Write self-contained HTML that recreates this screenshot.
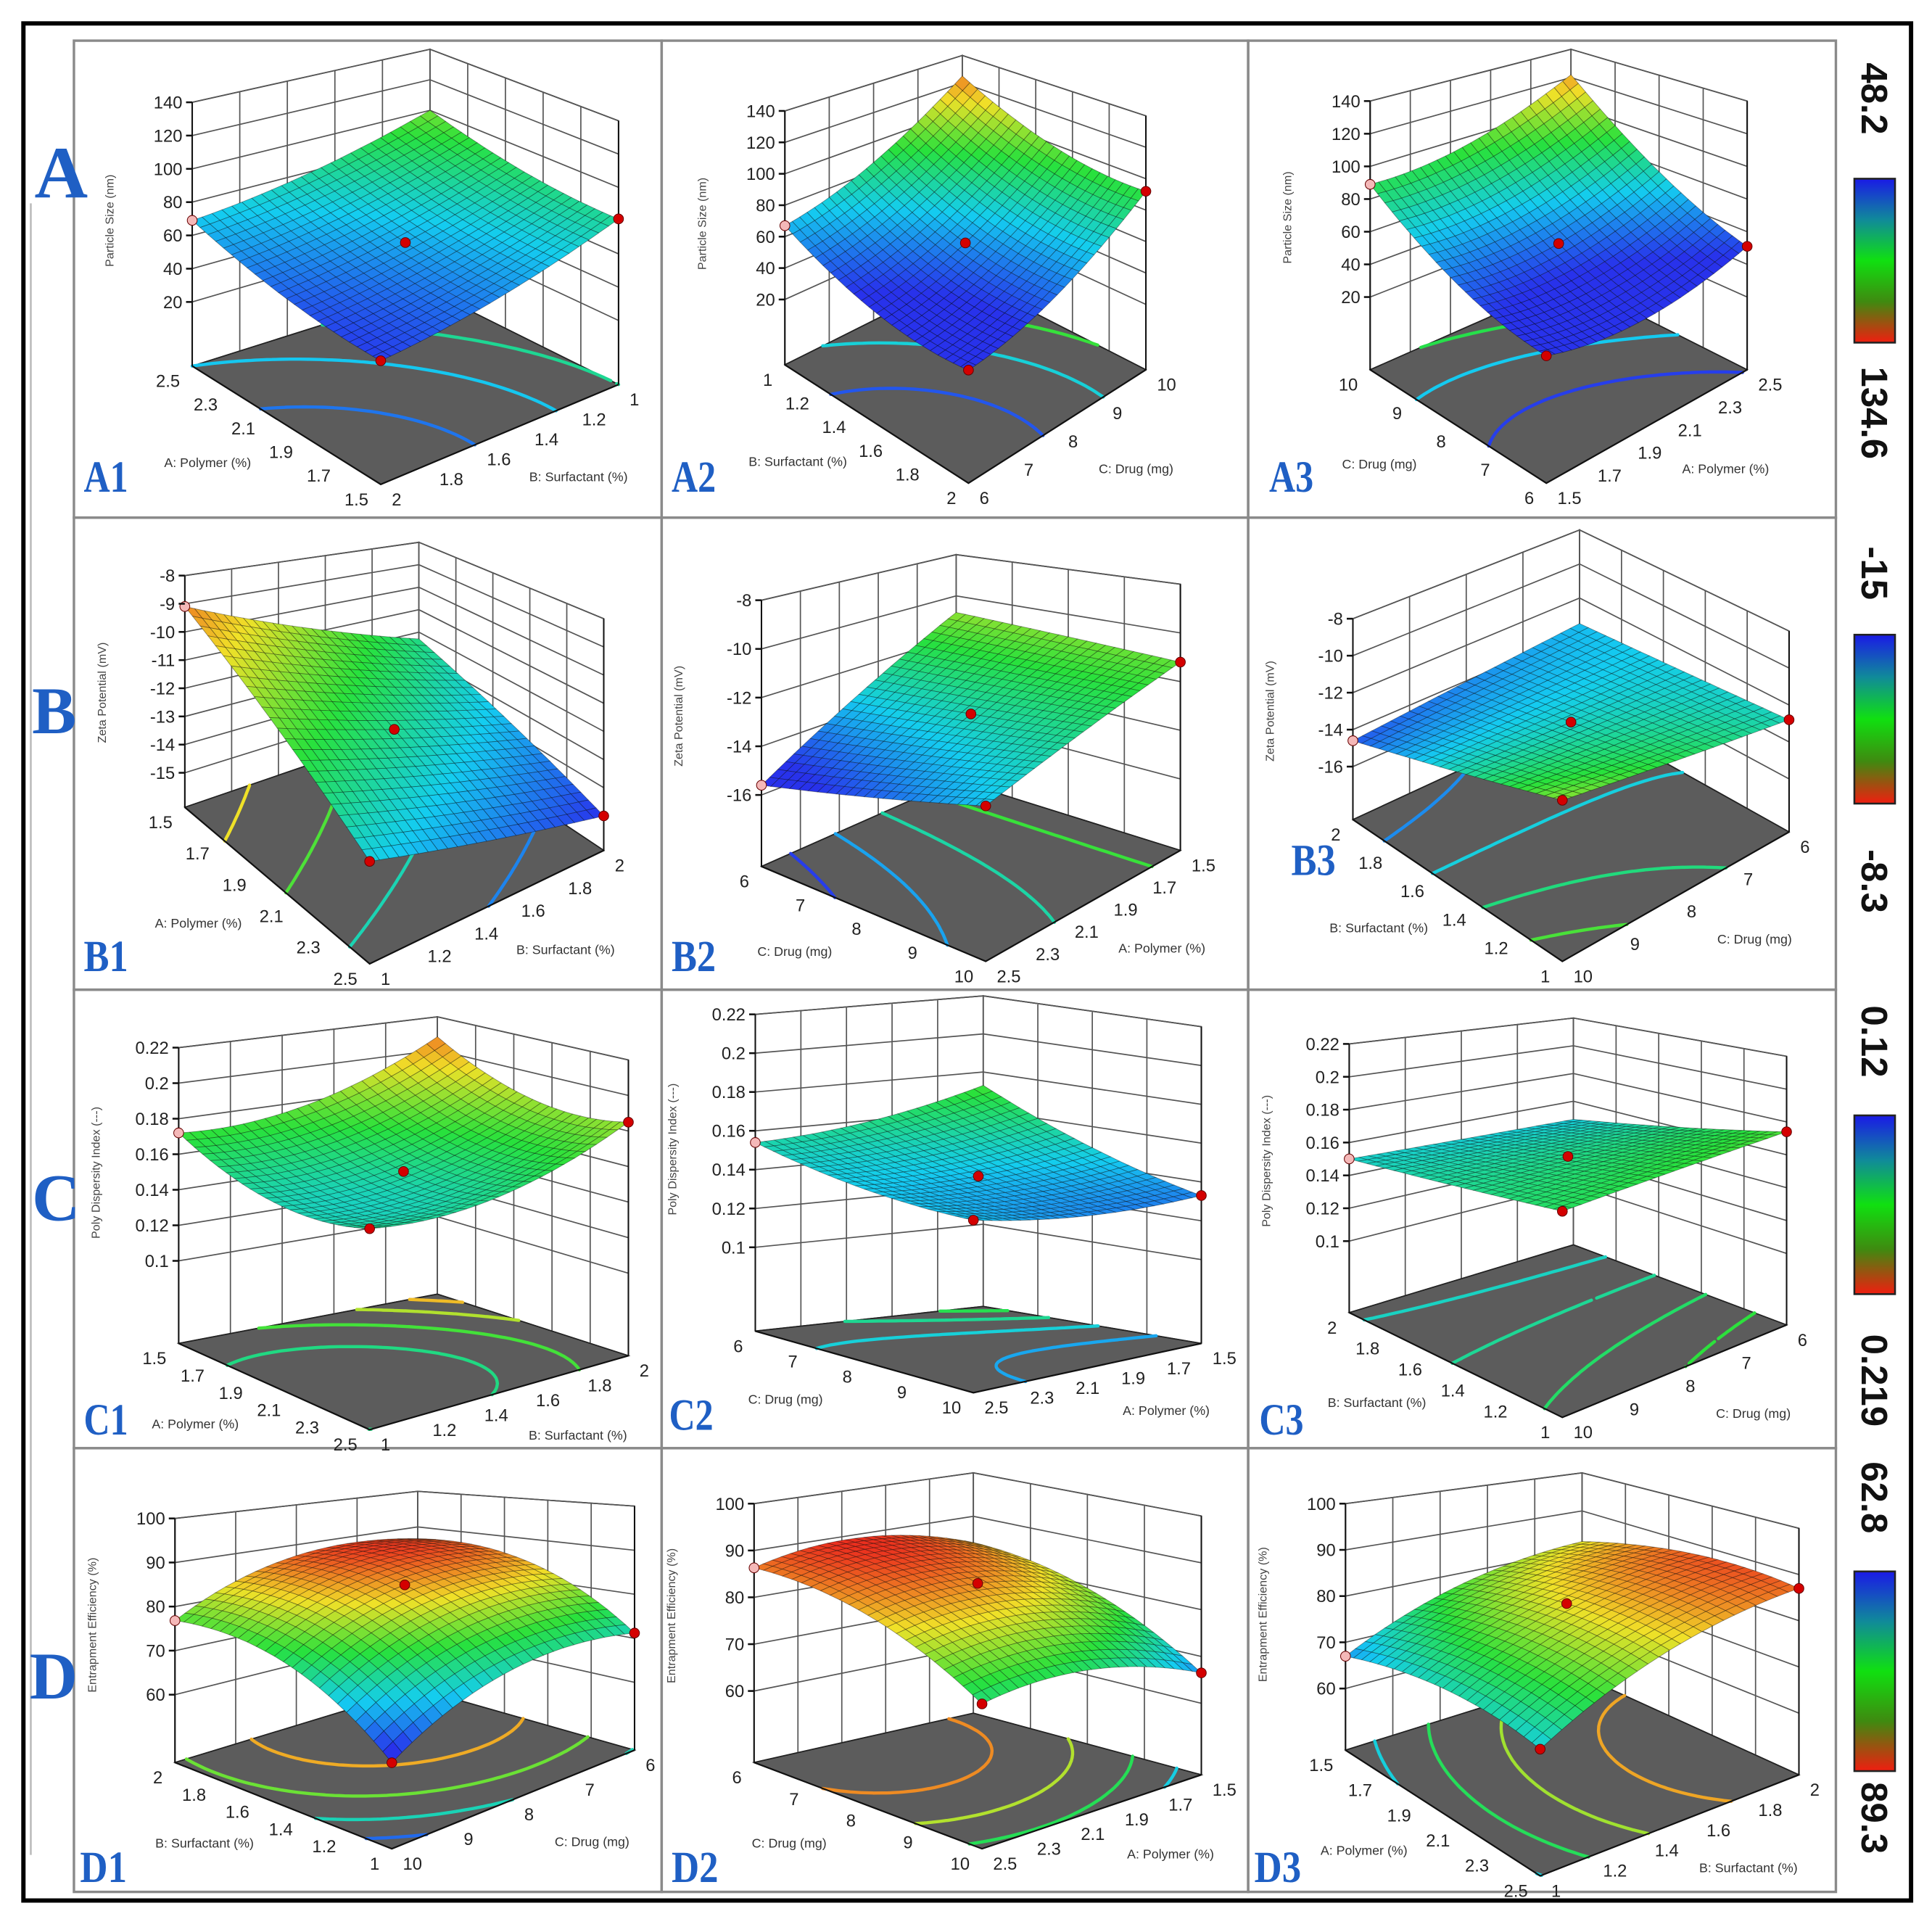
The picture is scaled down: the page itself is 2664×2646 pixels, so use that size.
<!DOCTYPE html>
<html><head><meta charset="utf-8"><style>html,body{margin:0;padding:0;background:#fff}svg{display:block}</style></head>
<body>
<svg id="fig" xmlns="http://www.w3.org/2000/svg" width="2664" height="2646" viewBox="0 0 1568 1557" preserveAspectRatio="none" font-family="Liberation Sans, sans-serif">
<defs>
<linearGradient id="cbar" x1="0" y1="0" x2="0" y2="1">
<stop offset="0" stop-color="#1a1ae6"/><stop offset="0.25" stop-color="#108a9a"/><stop offset="0.5" stop-color="#10e010"/><stop offset="0.75" stop-color="#3f8a10"/><stop offset="1" stop-color="#f01e10"/>
</linearGradient>
</defs>
<rect x="0" y="0" width="1568" height="1557" fill="#fff"/>
<line x1="25" y1="165" x2="25" y2="1505" stroke="#bbb" stroke-width="1.5"/>
<g id="frames" fill="none" stroke="#8a8a8a" stroke-width="2">
<rect x="60" y="33" width="477" height="387"/><rect x="537" y="33" width="476" height="387"/><rect x="1013" y="33" width="477" height="387"/>
<rect x="60" y="420" width="477" height="383"/><rect x="537" y="420" width="476" height="383"/><rect x="1013" y="420" width="477" height="383"/>
<rect x="60" y="803" width="477" height="372"/><rect x="537" y="803" width="476" height="372"/><rect x="1013" y="803" width="477" height="372"/>
<rect x="60" y="1175" width="477" height="360"/><rect x="537" y="1175" width="476" height="360"/><rect x="1013" y="1175" width="477" height="360"/>
</g>
<g id="plots"></g>
<g font-family="Liberation Serif, serif" font-weight="bold" fill="#1f5fc4">
<text x="28" y="160" font-size="60">A</text>
<text x="26" y="595" font-size="54">B</text>
<text x="26" y="990" font-size="54">C</text>
<text x="24" y="1378" font-size="54">D</text>
<text x="68" y="399" font-size="36" textLength="36" lengthAdjust="spacingAndGlyphs">A1</text>
<text x="545" y="399" font-size="36" textLength="36" lengthAdjust="spacingAndGlyphs">A2</text>
<text x="1030" y="399" font-size="36" textLength="36" lengthAdjust="spacingAndGlyphs">A3</text>
<text x="68" y="788" font-size="36" textLength="36" lengthAdjust="spacingAndGlyphs">B1</text>
<text x="545" y="788" font-size="36" textLength="36" lengthAdjust="spacingAndGlyphs">B2</text>
<text x="1048" y="710" font-size="36" textLength="36" lengthAdjust="spacingAndGlyphs">B3</text>
<text x="68" y="1164" font-size="36" textLength="36" lengthAdjust="spacingAndGlyphs">C1</text>
<text x="543" y="1160" font-size="36" textLength="36" lengthAdjust="spacingAndGlyphs">C2</text>
<text x="1022" y="1164" font-size="36" textLength="36" lengthAdjust="spacingAndGlyphs">C3</text>
<text x="65" y="1527" font-size="36" textLength="38" lengthAdjust="spacingAndGlyphs">D1</text>
<text x="545" y="1527" font-size="36" textLength="38" lengthAdjust="spacingAndGlyphs">D2</text>
<text x="1018" y="1527" font-size="36" textLength="38" lengthAdjust="spacingAndGlyphs">D3</text>
</g>
<g font-size="30" font-weight="bold" fill="#111">
<rect x="1505" y="145" width="33" height="133" fill="url(#cbar)" stroke="#222" stroke-width="1.5"/>
<rect x="1505" y="515" width="33" height="137" fill="url(#cbar)" stroke="#222" stroke-width="1.5"/>
<rect x="1505" y="905" width="33" height="145" fill="url(#cbar)" stroke="#222" stroke-width="1.5"/>
<rect x="1505" y="1275" width="33" height="162" fill="url(#cbar)" stroke="#222" stroke-width="1.5"/>
<text transform="translate(1511,80) rotate(90)" text-anchor="middle">48.2</text>
<text transform="translate(1511,335) rotate(90)" text-anchor="middle">134.6</text>
<text transform="translate(1511,465) rotate(90)" text-anchor="middle">-15</text>
<text transform="translate(1511,715) rotate(90)" text-anchor="middle">-8.3</text>
<text transform="translate(1511,845) rotate(90)" text-anchor="middle">0.12</text>
<text transform="translate(1511,1120) rotate(90)" text-anchor="middle">0.219</text>
<text transform="translate(1511,1215) rotate(90)" text-anchor="middle">62.8</text>
<text transform="translate(1511,1475) rotate(90)" text-anchor="middle">89.3</text>
</g>
<rect x="19" y="19" width="1532" height="1523" fill="none" stroke="#000" stroke-width="3.5"/>
</svg>
<script>
// ---- data (response values at surface corners) ----
const panelIds = ["a1","a2","a3","b1","b2","b3","c1","c2","c3","d1","d2","d3"];
const valL = [69, 67, 89, -9.1, -15.6, -14.6, 0.172, 0.154, 0.150, 76.8, 86.3, 67];
const valF = [50, 42, 44, -13.2, -13.4, -10.8, 0.160, 0.144, 0.165, 61, 73.6, 70];
const valR = [81, 92, 51, -15.0, -11.2, -12.8, 0.185, 0.133, 0.174, 71.2, 66.5, 87];
const valB = [100, 125, 122, -12.3, -10.8, -13.5, 0.208, 0.173, 0.147, 86.7, 84, 82];
const bumpU = [-5, -10, -10, 0, 0, 0, -0.012, -0.004, 0, 5.5, 4, 3];
const bumpV = [-5, -10, -10, 0, 0, 0, -0.012, -0.004, 0, 5.5, 4, 3];
const colorMin = [48.2, -15, 0.12, 62.8];
const colorMax = [134.6, -8.3, 0.219, 89.3];
const zTicksA = [20, 40, 60, 80, 100, 120, 140];
const zTicksB1 = [-15, -14, -13, -12, -11, -10, -9, -8];
const zTicksB = [-16, -14, -12, -10, -8];
const zTicksC = [0.1, 0.12, 0.14, 0.16, 0.18, 0.2, 0.22];
const zTicksD = [60, 70, 80, 90, 100];
const zTickSets = [zTicksA, zTicksA, zTicksA, zTicksB1, zTicksB, zTicksB, zTicksC, zTicksC, zTicksC, zTicksD, zTicksD, zTicksD];
const polyUp = ["1.5","1.7","1.9","2.1","2.3","2.5"], polyDown = ["2.5","2.3","2.1","1.9","1.7","1.5"];
const surfUp = ["1","1.2","1.4","1.6","1.8","2"], surfDown = ["2","1.8","1.6","1.4","1.2","1"];
const drugUp = ["6","7","8","9","10"], drugDown = ["10","9","8","7","6"];
const f1Ticks = [polyDown, surfUp, drugDown, polyUp, drugUp, surfDown, polyUp, drugUp, surfDown, surfDown, drugUp, polyUp];
const f2Ticks = [surfDown, drugUp, polyUp, surfUp, polyDown, drugDown, surfUp, polyDown, drugDown, drugDown, polyDown, surfUp];
const nA = "A: Polymer (%)", nB = "B: Surfactant (%)", nC = "C: Drug (mg)";
const f1Names = [nA, nB, nC, nA, nC, nB, nA, nC, nB, nB, nC, nA];
const f2Names = [nB, nC, nA, nB, nA, nC, nB, nA, nC, nC, nA, nB];
const zNames = ["Particle Size (nm)", "Zeta Potential (mV)", "Poly Dispersity Index (---)", "Entrapment Efficiency (%)"];

// ---- layout (screen geometry, not data) ----
const geo = [
 {L:[156,297],F:[309,393],R:[502,312],B:[349,236],top:40,y0:245,y1:83},
 {L:[637,296],F:[786,392],R:[930,300],B:[781,224],top:45,y0:243,y1:90},
 {L:[1112,300],F:[1255,392],R:[1418,300],B:[1275,228],top:40,y0:241,y1:82},
 {L:[150,655],F:[300,782],R:[490,690],B:[340,590],top:440,y0:627,y1:467},
 {L:[618,703],F:[800,780],R:[958,690],B:[776,633],top:450,y0:645,y1:487},
 {L:[1098,665],F:[1268,780],R:[1452,675],B:[1282,580],top:430,y0:622,y1:502},
 {L:[145,1090],F:[300,1160],R:[510,1100],B:[355,1050],top:825,y0:1023,y1:850},
 {L:[613,1080],F:[790,1130],R:[975,1090],B:[798,1060],top:808,y0:1012,y1:823},
 {L:[1095,1065],F:[1268,1150],R:[1450,1075],B:[1277,1010],top:826,y0:1007,y1:847},
 {L:[142,1430],F:[318,1500],R:[515,1420],B:[339,1370],top:1210,y0:1375,y1:1232},
 {L:[612,1430],F:[797,1500],R:[975,1440],B:[790,1390],top:1195,y0:1372,y1:1220},
 {L:[1092,1420],F:[1250,1522],R:[1460,1440],B:[1284,1360],top:1195,y0:1370,y1:1220}
];

const NS = "http://www.w3.org/2000/svg";
function mk(tag, attrs, parent){const e=document.createElementNS(NS,tag);for(const k in attrs)e.setAttribute(k,attrs[k]);parent.appendChild(e);return e;}
const stops = [[0,[40,50,235]],[0.25,[20,205,240]],[0.5,[40,225,60]],[0.75,[240,225,40]],[1,[235,45,30]]];
function cmap(t){t=Math.max(0,Math.min(1,t));for(let i=1;i<stops.length;i++){if(t<=stops[i][0]){const a=stops[i-1],b=stops[i];const f=(t-a[0])/(b[0]-a[0]);const c=a[1].map((v,j)=>Math.round(v+(b[1][j]-v)*f));return "rgb("+c.join(",")+")";}}return "rgb(235,45,30)";}
const fmt = p => p[0].toFixed(1)+","+p[1].toFixed(1);
const plots = document.getElementById("plots");

panelIds.forEach((id, i) => {
  const G = geo[i], zt = zTickSets[i], row = Math.floor(i/3);
  const z0 = zt[0], zN = zt[zt.length-1];
  const sL = (G.y0-G.y1)/(zN-z0);
  const zf = z0 - (G.L[1]-G.y0)/sL;
  const sB = (G.B[1]-G.top)/(zN-zf), sR = sL, sF = 2*sL - sB;
  const bl = (u,v,a,f,r,b) => (1-u)*(1-v)*a + u*(1-v)*f + u*v*r + (1-u)*v*b;
  const proj = (u,v,z) => {
    const x = bl(u,v,G.L[0],G.F[0],G.R[0],G.B[0]);
    const y = bl(u,v,G.L[1],G.F[1],G.R[1],G.B[1]);
    const s = bl(u,v,sL,sF,sR,sB);
    return [x, y-(z-zf)*s];
  };
  const zfun = (u,v) => bl(u,v,valL[i],valF[i],valR[i],valB[i]) + bumpU[i]*4*u*(1-u) + bumpV[i]*4*v*(1-v);
  const cmin = colorMin[row], cmax = colorMax[row];
  const col = z => cmap((z-cmin)/(cmax-cmin));

  const g = mk("g", {}, plots);
  
  

  const lw = mk("polygon", {points:[proj(0,0,zf),proj(0,1,zf),proj(0,1,zN),proj(0,0,zN)].map(fmt).join(" "), fill:"#fff", stroke:"#333", "stroke-width":1}, g);
  
  
  const rw = mk("polygon", {points:[proj(0,1,zf),proj(1,1,zf),proj(1,1,zN),proj(0,1,zN)].map(fmt).join(" "), fill:"#fff", stroke:"#333", "stroke-width":1}, g);
  
  
  let gd = "";
  zt.forEach(t => { gd += "M"+fmt(proj(0,0,t))+"L"+fmt(proj(0,1,t))+"L"+fmt(proj(1,1,t)); });
  const n1 = f1Ticks[i].length, n2 = f2Ticks[i].length;
  for (let k=0;k<n2;k++){const v=k/(n2-1); gd += "M"+fmt(proj(0,v,zf))+"L"+fmt(proj(0,v,zN));}
  for (let k=0;k<n1;k++){const u=k/(n1-1); gd += "M"+fmt(proj(u,1,zf))+"L"+fmt(proj(u,1,zN));}
  const grid = mk("path", {d:gd, fill:"none", stroke:"#555", "stroke-width":1}, g);
  
  

  const fl = mk("polygon", {points:[proj(0,0,zf),proj(1,0,zf),proj(1,1,zf),proj(0,1,zf)].map(fmt).join(" "), fill:"#5c5c5c", stroke:"#222", "stroke-width":1}, g);
  
  

  const M = 40; const Z = [];
  let zmin = Infinity, zmax = -Infinity;
  for (let a=0;a<=M;a++){Z.push([]);for(let b=0;b<=M;b++){const z=zfun(a/M,b/M);Z[a].push(z);zmin=Math.min(zmin,z);zmax=Math.max(zmax,z);}}
  [0.15,0.38,0.62,0.85].forEach(fr => {
    const lv = zmin + (zmax-zmin)*fr; let d = "";
    for (let a=0;a<M;a++) for (let b=0;b<M;b++){
      const c = [[a,b],[a+1,b],[a+1,b+1],[a,b+1]];
      const pts = [];
      for (let e=0;e<4;e++){
        const p=c[e], q=c[(e+1)%4]; const zp=Z[p[0]][p[1]], zq=Z[q[0]][q[1]];
        if ((zp-lv)*(zq-lv) <= 0 && zp!==zq){const t=(lv-zp)/(zq-zp); pts.push([(p[0]+(q[0]-p[0])*t)/M,(p[1]+(q[1]-p[1])*t)/M]);}
      }
      if (pts.length>=2){d += "M"+fmt(proj(pts[0][0],pts[0][1],zf))+"L"+fmt(proj(pts[1][0],pts[1][1],zf));}
      if (pts.length===4){d += "M"+fmt(proj(pts[2][0],pts[2][1],zf))+"L"+fmt(proj(pts[3][0],pts[3][1],zf));}
    }
    const cl = mk("path", {d:d, fill:"none", stroke:col(lv), "stroke-width":2.6, "stroke-linecap":"round"}, g);
    
    
  });

  const ed = mk("path", {d:"M"+fmt(proj(0,0,zf))+"L"+fmt(proj(0,0,zN))+"M"+fmt(proj(1,1,zf))+"L"+fmt(proj(1,1,zN)), stroke:"#111", "stroke-width":1.2, fill:"none"}, g);
  
  

  const N = 24, quads = [];
  for (let a=0;a<N;a++) for (let b=0;b<N;b++) quads.push([a,b,(a+0.5)/N + 1 - (b+0.5)/N]);
  quads.sort((p,q)=>p[2]-q[2]);
  const sg = mk("g", {stroke:"rgba(0,0,0,0.4)", "stroke-width":0.5}, g);
  
  
  quads.forEach(q => {
    const u0=q[0]/N,u1=(q[0]+1)/N,v0=q[1]/N,v1=(q[1]+1)/N;
    const zc = zfun((u0+u1)/2,(v0+v1)/2);
    const pg = mk("polygon", {points:[proj(u0,v0,zfun(u0,v0)),proj(u1,v0,zfun(u1,v0)),proj(u1,v1,zfun(u1,v1)),proj(u0,v1,zfun(u0,v1))].map(fmt).join(" "), fill:col(zc)}, sg);
    
    
  });

  const fe = mk("path", {d:"M"+fmt(proj(0,0,zf))+"L"+fmt(proj(1,0,zf))+"L"+fmt(proj(1,1,zf)), stroke:"#111", "stroke-width":1.3, fill:"none"}, g);
  
  

  [[0.5,0.5,"#d40000"],[0,0,"#f4b8b8"],[1,1,"#d40000"],[1,0,"#d40000"]].forEach(p => {
    const c = proj(p[0],p[1],zfun(p[0],p[1]));
    const dot = mk("circle", {cx:c[0].toFixed(1), cy:c[1].toFixed(1), r:4, fill:p[2], stroke:"#600", "stroke-width":0.6}, g);
    
    
  });

  zt.forEach(t => {
    const p = proj(0,0,t);
    const tk = mk("line", {x1:p[0]-5, y1:p[1], x2:p[0], y2:p[1], stroke:"#111", "stroke-width":1.5}, g);
    
    
    const tx = mk("text", {x:(p[0]-8).toFixed(1), y:(p[1]+5).toFixed(1), "font-size":14, "text-anchor":"end", fill:"#222"}, g);
    tx.textContent = String(t);
    
    
  });
  f1Ticks[i].forEach((lab,k) => {
    const p = proj(k/(n1-1),0,zf);
    const tx = mk("text", {x:(p[0]-10).toFixed(1), y:(p[1]+17).toFixed(1), "font-size":14, "text-anchor":"end", fill:"#222"}, g);
    tx.textContent = lab;
    
    
  });
  f2Ticks[i].forEach((lab,k) => {
    const p = proj(1,k/(n2-1),zf);
    const tx = mk("text", {x:(p[0]+9).toFixed(1), y:(p[1]+17).toFixed(1), "font-size":14, "text-anchor":"start", fill:"#222"}, g);
    tx.textContent = lab;
    
    
  });
  const m1 = proj(0.5,0,zf), m2 = proj(1,0.5,zf);
  const t1 = mk("text", {x:(m1[0]-64).toFixed(1), y:(m1[1]+34).toFixed(1), "font-size":10.5, "text-anchor":"middle", fill:"#333"}, g);
  t1.textContent = f1Names[i];
  
  
  const t2 = mk("text", {x:(m2[0]+64).toFixed(1), y:(m2[1]+38).toFixed(1), "font-size":10.5, "text-anchor":"middle", fill:"#333"}, g);
  t2.textContent = f2Names[i];
  
  
  const zx = G.L[0]-64, zy = (G.y0+G.y1)/2 + 15;
  const t3 = mk("text", {transform:"translate("+zx.toFixed(1)+","+zy.toFixed(1)+") rotate(-90)", "font-size":9.5, "text-anchor":"middle", fill:"#444"}, g);
  t3.textContent = zNames[row];
  
  
});
</script>
</body></html>
